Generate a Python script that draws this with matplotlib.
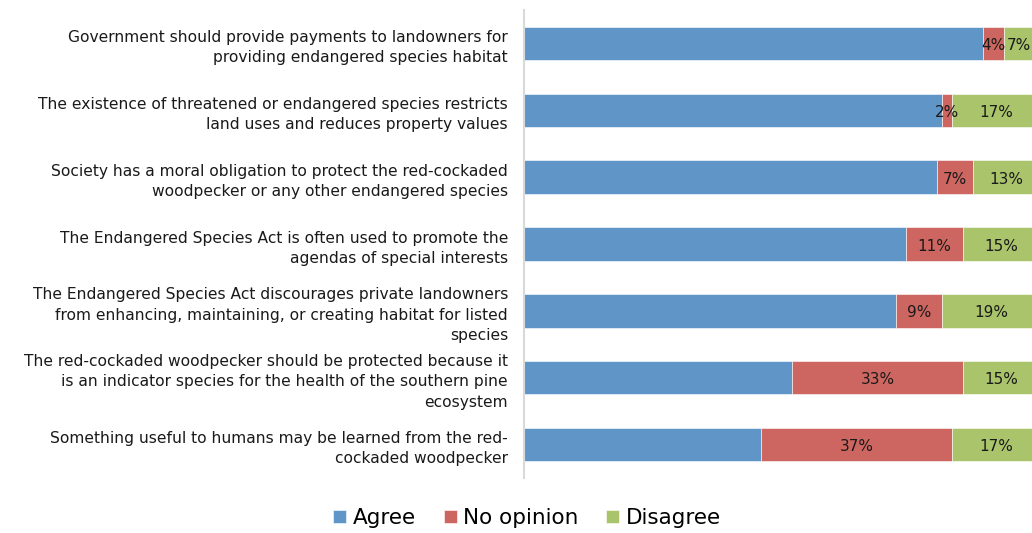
import matplotlib
matplotlib.use("Agg")
import matplotlib.pyplot as plt
import numpy as np

plt.rcParams['font.family'] = ['DejaVu Sans']

statements = [
    "Government should provide payments to landowners for\nproviding endangered species habitat",
    "The existence of threatened or endangered species restricts\nland uses and reduces property values",
    "Society has a moral obligation to protect the red-cockaded\nwoodpecker or any other endangered species",
    "The Endangered Species Act is often used to promote the\nagendas of special interests",
    "The Endangered Species Act discourages private landowners\nfrom enhancing, maintaining, or creating habitat for listed\nspecies",
    "The red-cockaded woodpecker should be protected because it\nis an indicator species for the health of the southern pine\necosystem",
    "Something useful to humans may be learned from the red-\ncockaded woodpecker",
]
agree = [89, 81, 80, 74, 72, 52, 46]
no_opinion = [4, 2, 7, 11, 9, 33, 37]
disagree = [7, 17, 13, 15, 19, 15, 17]

series = [("Agree", agree, "#5f96c7", False),
          ("No opinion", no_opinion, "#cd6660", True),
          ("Disagree", disagree, "#a9c46b", True)]

XMAX = 98.4

fig = plt.figure(figsize=(10.32, 5.33), dpi=100)
ax = fig.add_axes([524 / 1032, 55 / 533, 508 / 1032, 468 / 533])

y = np.arange(len(statements))
left = np.zeros(len(statements))
for name, vals, color, labeled in series:
    vals = np.array(vals, dtype=float)
    ax.barh(y, vals, left=left, height=0.5, color=color, label=name,
            edgecolor="white", linewidth=0.4)
    if labeled:
        for yi, l, v in zip(y, left, vals):
            # centre on the segment, but keep the label inside the plot area
            xc = min(l + v / 2, XMAX - 2.6)
            ax.text(xc, yi + 0.03, f"{int(v)}%", ha="center", va="center",
                    fontsize=11, color="#1a1a1a")
    left += vals

ax.set_xlim(0, XMAX)
ax.set_ylim(len(statements) - 0.5, -0.5)
ax.set_yticks(y)
ax.set_yticklabels(statements, fontsize=11.2, color="#1a1a1a", linespacing=1.45)
ax.tick_params(axis="y", length=0, pad=11.5)
ax.set_xticks([])
for s in ["top", "right", "bottom"]:
    ax.spines[s].set_visible(False)
ax.spines["left"].set_color("#d9d9d9")
ax.spines["left"].set_linewidth(1.5)

fig.legend(loc="center", bbox_to_anchor=(527 / 1032, 15 / 533), ncol=3,
           frameon=False, fontsize=15.5, handlelength=0.6, handleheight=0.6,
           handletextpad=0.3, columnspacing=1.3)

fig.savefig("out.png", dpi=100)
